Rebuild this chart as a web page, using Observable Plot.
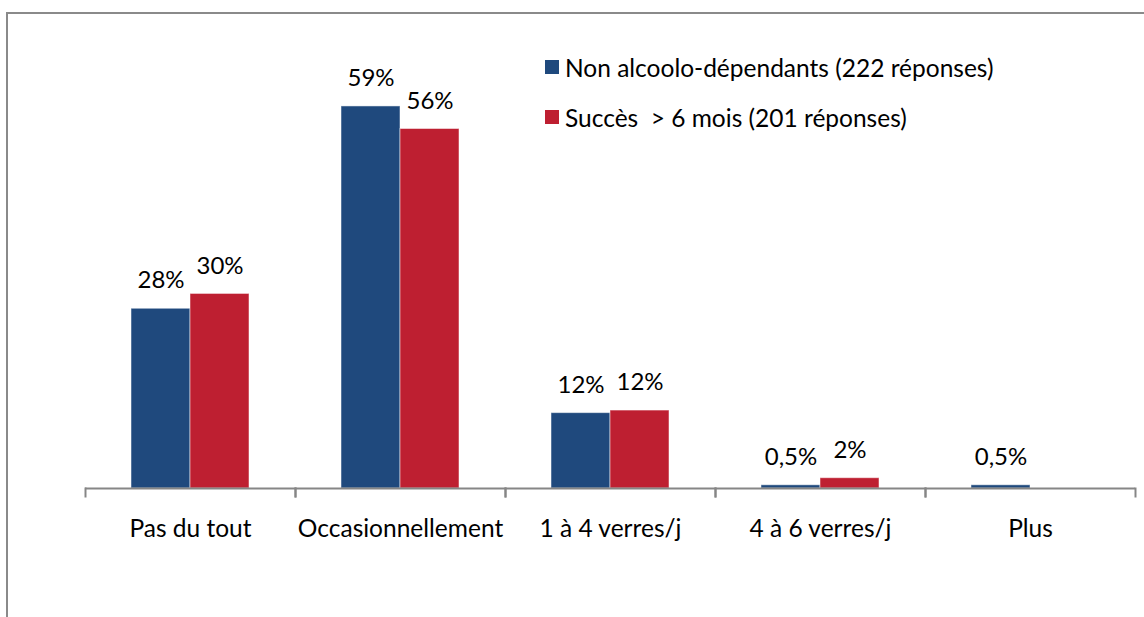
<!DOCTYPE html>
<html>
<head>
<meta charset="utf-8">
<script src="https://cdn.jsdelivr.net/npm/d3@7"></script>
<script src="https://cdn.jsdelivr.net/npm/@observablehq/plot@0.6"></script>
<style>
  html, body { margin: 0; padding: 0; background: #fff; }
  body { width: 1144px; height: 617px; position: relative; overflow: hidden; font-family: Lato, "Open Sans", sans-serif; }
  #frame { position: absolute; left: 6px; top: 12px; width: 1200px; height: 700px; border-left: 2px solid #8a8a8a; border-top: 2px solid #8a8a8a; }
  #chart { position: absolute; left: 0; top: 0; }
  #legend { position: absolute; left: 545px; top: 50px; font-size: 24.5px; color: #000; }
  #legend .row { display: flex; align-items: center; height: 34px; margin-bottom: 16px; }
  #legend .sw { width: 14px; height: 14px; margin-right: 6px; }
</style>
</head>
<body>
<div id="frame"></div>
<div id="chart"></div>
<div id="legend"></div>
<script>
const categories = ["Pas du tout", "Occasionnellement", "1 à 4 verres/j", "4 à 6 verres/j", "Plus"];
const series = ["Non alcoolo-dépendants (222 réponses)", "Succès  > 6 mois (201 réponses)"];
const colors = ["#1f497d", "#be1f31"];
const valuesNonDep = [27.9, 59.3, 11.7, 0.5, 0.5];
const valuesSucces = [30.2, 55.8, 12.1, 1.6, 0];
const labelsNonDep = ["28%", "59%", "12%", "0,5%", "0,5%"];
const labelsSucces = ["30%", "56%", "12%", "2%", ""];

const data = [];
categories.forEach((c, i) => {
  data.push({category: c, series: series[0], value: valuesNonDep[i], label: labelsNonDep[i]});
  data.push({category: c, series: series[1], value: valuesSucces[i], label: labelsSucces[i]});
});

const font = "Lato, 'Open Sans', sans-serif";
const plot = Plot.plot({
  width: 1144,
  height: 617,
  marginLeft: 85,
  marginRight: 9,
  marginTop: 37,
  marginBottom: 121,
  style: {fontFamily: font, fontSize: "24px", color: "#000", background: "transparent"},
  fx: {domain: categories, padding: 0, label: null},
  x: {domain: series, paddingInner: 0, paddingOuter: 0.765, axis: null},
  y: {domain: [-1.24, 70], axis: null},
  color: {domain: series, range: colors},
  marks: [
    Plot.barY(data, {fx: "category", x: "series", y1: 0, y2: "value", fill: "series", stroke: "#ffffff", strokeOpacity: 0.5, strokeWidth: 1}),
    Plot.ruleY([0], {stroke: "#868686", strokeWidth: 2}),
    Plot.frame({anchor: "left", stroke: "#868686", strokeWidth: 2, insetTop: 451}),
    Plot.frame({anchor: "right", stroke: "#868686", strokeWidth: 2, insetTop: 451}),
    Plot.text(data, {fx: "category", x: "series", y: "value", text: "label", dy: -28, lineAnchor: "middle", fill: "#000", fontSize: 24}),
    Plot.axisFx({anchor: "bottom", tickSize: 0, tickPadding: 23, label: null, fontSize: 24.5})
  ]
});
document.getElementById("chart").appendChild(plot);

const legend = document.getElementById("legend");
series.forEach((s, i) => {
  const row = document.createElement("div");
  row.className = "row";
  const sw = document.createElement("div");
  sw.className = "sw";
  sw.style.background = colors[i];
  const t = document.createElement("span");
  t.textContent = s;
  t.style.whiteSpace = "pre";
  row.appendChild(sw);
  row.appendChild(t);
  legend.appendChild(row);
});
</script>
</body>
</html>
